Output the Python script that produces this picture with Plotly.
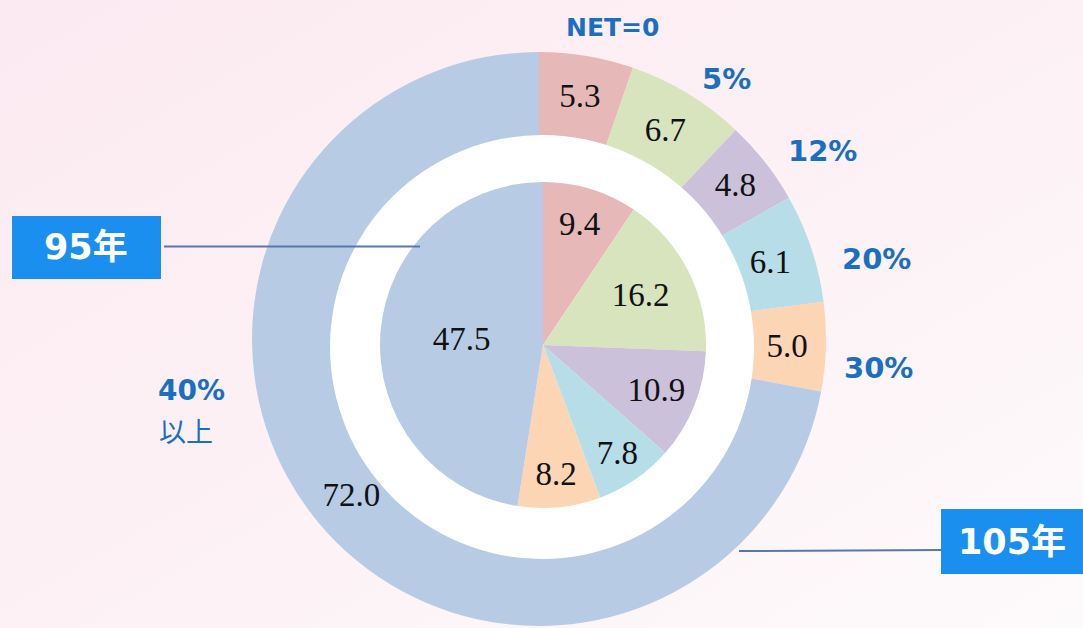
import base64
import plotly.graph_objects as go

W, H = 1083, 628

# ---- data ----
categories = ["NET=0", "5%", "12%", "20%", "30%", "40%以上"]
values_105 = [5.3, 6.7, 4.8, 6.1, 5.0, 72.0]   # outer ring (105年)
values_95 = [9.4, 16.2, 10.9, 7.8, 8.2, 47.5]   # inner pie (95年)
year_labels = ["95年", "105年"]

colors = ["#e6b9b8", "#d7e4bd", "#ccc1da", "#b7dee8", "#fcd5b5", "#b7cce4"]
label_blue = "#1b6fc0"
box_blue = "#1a8ff0"
line_col = "#5876b2"


def px_x(x):
    return x / W


def px_y(y):
    return 1 - y / H


def dom_circle(cx, cy, r):
    return dict(x=[px_x(cx - r), px_x(cx + r)], y=[px_y(cy + r), px_y(cy - r)])


fig = go.Figure()

# outer donut: 105年
fig.add_trace(go.Pie(
    labels=categories, values=values_105, sort=False, direction="clockwise",
    rotation=0, hole=0.70, domain=dom_circle(539, 339, 287),
    marker=dict(colors=colors, line=dict(width=0)),
    texttemplate="%{value:.1f}", textposition="inside",
    insidetextorientation="horizontal",
    textfont=dict(family="Liberation Serif", size=33, color="#111111"),
    showlegend=False, hoverinfo="label+value", automargin=False,
))

# white separator disk
fig.add_trace(go.Pie(
    labels=["gap"], values=[1], sort=False, domain=dom_circle(542, 347, 212),
    marker=dict(colors=["#ffffff"], line=dict(width=0)),
    textinfo="none", hoverinfo="skip", showlegend=False, automargin=False,
))

# inner pie: 95年
fig.add_trace(go.Pie(
    labels=categories, values=values_95, sort=False, direction="clockwise",
    rotation=0, domain=dom_circle(543, 345, 163),
    marker=dict(colors=colors, line=dict(width=0)),
    texttemplate="%{value:.1f}", textposition="inside",
    insidetextorientation="horizontal",
    textfont=dict(family="Liberation Serif", size=33, color="#111111"),
    showlegend=False, hoverinfo="label+value", automargin=False,
))

# background gradient via svg data uri
svg = (
    '<svg xmlns="http://www.w3.org/2000/svg" width="1083" height="628">'
    '<defs><linearGradient id="g" x1="0" y1="0" x2="1" y2="1">'
    '<stop offset="0" stop-color="#fbeaf1"/>'
    '<stop offset="0.5" stop-color="#fdf1f5"/>'
    '<stop offset="1" stop-color="#fdfafb"/>'
    '</linearGradient></defs>'
    '<rect width="1083" height="628" fill="url(#g)"/></svg>'
)
src = "data:image/svg+xml;base64," + base64.b64encode(svg.encode()).decode()

shapes = [
    # 95年 box and line
    dict(type="rect", xref="paper", yref="paper", x0=px_x(12), x1=px_x(161),
         y0=px_y(279), y1=px_y(216), fillcolor=box_blue, line=dict(width=0)),
    dict(type="line", xref="paper", yref="paper", x0=px_x(164), x1=px_x(420),
         y0=px_y(246.5), y1=px_y(246.5), line=dict(color=line_col, width=2)),
    # 105年 box and line
    dict(type="rect", xref="paper", yref="paper", x0=px_x(941), x1=px_x(1083),
         y0=px_y(574), y1=px_y(509), fillcolor=box_blue, line=dict(width=0)),
    dict(type="line", xref="paper", yref="paper", x0=px_x(739), x1=px_x(941),
         y0=px_y(551), y1=px_y(550), line=dict(color=line_col, width=2)),
]

bold_font = "DejaVu Sans, Noto Sans CJK TC"
cat_pos = [(612, 27, 25), (726, 79, 29), (822, 151, 29), (876, 259, 29), (878, 368, 29)]
annotations = []
for name, (x, y, s) in zip(categories[:5], cat_pos):
    annotations.append(dict(
        text=f"<b>{name}</b>", x=px_x(x), y=px_y(y), xref="paper", yref="paper",
        showarrow=False, xanchor="center", yanchor="middle",
        font=dict(family=bold_font, size=s, color=label_blue)))
annotations.append(dict(
    text="<b>" + categories[5][:3] + "</b>", x=px_x(191), y=px_y(390), xref="paper", yref="paper",
    showarrow=False, xanchor="center", yanchor="middle",
    font=dict(family=bold_font, size=28, color=label_blue)))
annotations.append(dict(
    text=categories[5][3:], x=px_x(186), y=px_y(430), xref="paper", yref="paper",
    showarrow=False, xanchor="center", yanchor="middle",
    font=dict(family="Noto Sans CJK TC", size=27, color=label_blue)))
for name, (x, y) in zip(year_labels, [(86, 247), (1012, 542)]):
    annotations.append(dict(
        text=f"<b>{name}</b>", x=px_x(x), y=px_y(y), xref="paper", yref="paper",
        showarrow=False, xanchor="center", yanchor="middle",
        font=dict(family=bold_font, size=35, color="white")))

fig.update_layout(
    width=W, height=H, margin=dict(l=0, r=0, t=0, b=0),
    paper_bgcolor="#fcf0f5", plot_bgcolor="rgba(0,0,0,0)",
    images=[dict(source=src, xref="paper", yref="paper", x=0, y=1, sizex=1, sizey=1,
                 xanchor="left", yanchor="top", sizing="stretch", layer="below")],
    shapes=shapes, annotations=annotations,
)

fig.write_html("out.html", config={"displayModeBar": False},
               post_script="document.body.style.margin='0';")
